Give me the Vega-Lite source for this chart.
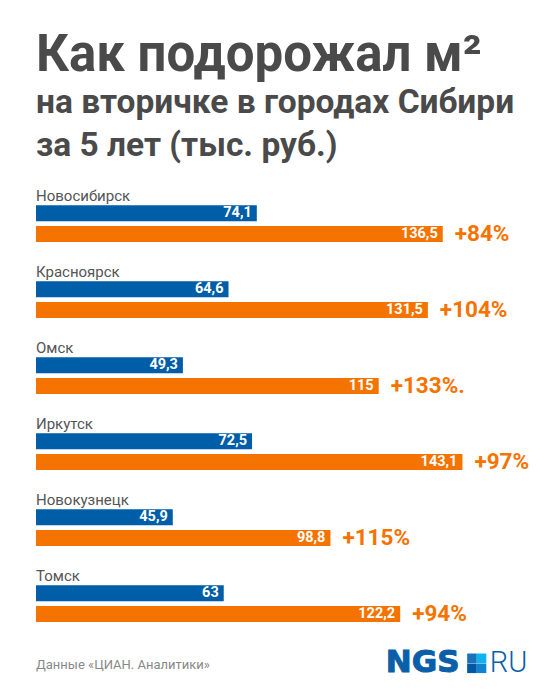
{
  "$schema": "https://vega.github.io/schema/vega-lite/v6.json",
  "description": "Как подорожал м2 на вторичке в городах Сибири",
  "autosize": "none",
  "padding": {"left": 36, "top": 205.3, "right": 0, "bottom": 0},
  "width": 524,
  "height": 494.7,
  "background": "white",
  "title": {
    "text": "Как подорожал м²",
    "subtitle": ["на вторичке в городах Сибири", "за 5 лет (тыс. руб.)"],
    "anchor": "start",
    "frame": "group",
    "font": "Roboto",
    "fontSize": 51,
    "fontWeight": 700,
    "color": "#4a4a4a",
    "subtitleFont": "Roboto",
    "subtitleFontSize": 33.5,
    "subtitleFontWeight": 700,
    "subtitleColor": "#4a4a4a",
    "subtitleLineHeight": 43,
    "subtitlePadding": 5,
    "offset": 26
  },
  "data": {
    "values": [
      {"city": "Новосибирск", "period": "before", "value": 74.1, "label": "74,1"},
      {"city": "Новосибирск", "period": "after", "value": 136.5, "label": "136,5", "growth": "+84%"},
      {"city": "Красноярск", "period": "before", "value": 64.6, "label": "64,6"},
      {"city": "Красноярск", "period": "after", "value": 131.5, "label": "131,5", "growth": "+104%"},
      {"city": "Омск", "period": "before", "value": 49.3, "label": "49,3"},
      {"city": "Омск", "period": "after", "value": 115, "label": "115", "growth": "+133%."},
      {"city": "Иркутск", "period": "before", "value": 72.5, "label": "72,5"},
      {"city": "Иркутск", "period": "after", "value": 143.1, "label": "143,1", "growth": "+97%"},
      {"city": "Новокузнецк", "period": "before", "value": 45.9, "label": "45,9"},
      {"city": "Новокузнецк", "period": "after", "value": 98.8, "label": "98,8", "growth": "+115%"},
      {"city": "Томск", "period": "before", "value": 63, "label": "63"},
      {"city": "Томск", "period": "after", "value": 122.2, "label": "122,2", "growth": "+94%"},
      {"city": "footer", "period": "footer", "value": 0, "note": "Данные «ЦИАН. Аналитики»"}
    ]
  },
  "encoding": {
    "x": {"field": "value", "type": "quantitative", "axis": null, "scale": {"domain": [0, 175.84], "range": [0, 524], "nice": false}},
    "y": {
      "field": "city",
      "type": "nominal",
      "axis": null,
      "sort": null,
      "scale": {
        "domain": ["Новосибирск", "Красноярск", "Омск", "Иркутск", "Новокузнецк", "Томск", "footer"],
        "range": [0, 532],
        "paddingInner": 0,
        "paddingOuter": 0
      }
    }
  },
  "layer": [
    {
      "transform": [{"filter": "datum.city != 'footer'"}],
      "mark": {"type": "bar"},
      "encoding": {
        "yOffset": {"field": "period", "scale": {"domain": ["before", "after"], "paddingInner": 0.223, "paddingOuter": 0.957, "align": 0}},
        "color": {"field": "period", "legend": null, "scale": {"domain": ["before", "after"], "range": ["#005ea8", "#f57300"]}}
      }
    },
    {
      "transform": [{"filter": "datum.city != 'footer'"}],
      "mark": {"type": "text", "align": "right", "baseline": "middle", "dx": -5, "font": "Roboto", "fontWeight": 700, "fontSize": 14.5, "color": "white"},
      "encoding": {
        "yOffset": {"field": "period", "scale": {"domain": ["before", "after"], "paddingInner": 0.223, "paddingOuter": 0.957, "align": 0}},
        "text": {"field": "label"}
      }
    },
    {
      "transform": [{"filter": "datum.growth"}],
      "mark": {"type": "text", "align": "left", "baseline": "middle", "dx": 12, "font": "Roboto", "fontWeight": 700, "fontSize": 22.5, "color": "#f57300"},
      "encoding": {
        "yOffset": {"field": "period", "scale": {"domain": ["before", "after"], "paddingInner": 0.223, "paddingOuter": 0.957, "align": 0}},
        "text": {"field": "growth"}
      }
    },
    {
      "transform": [{"filter": "datum.period == 'before'"}],
      "mark": {"type": "text", "align": "left", "baseline": "middle", "dy": -9, "font": "Roboto", "fontSize": 15, "color": "#555555"},
      "encoding": {
        "x": {"datum": 0},
        "y": {"field": "city", "type": "nominal", "bandPosition": 0},
        "text": {"field": "city"}
      }
    },
    {
      "transform": [{"filter": "datum.city == 'footer'"}],
      "mark": {"type": "text", "align": "left", "baseline": "middle", "dy": 4, "font": "Roboto", "fontSize": 13, "color": "#888888"},
      "encoding": {
        "x": {"datum": 0},
        "y": {"field": "city", "type": "nominal", "bandPosition": 0},
        "text": {"field": "note"}
      }
    },
    {
      "transform": [{"filter": "datum.city == 'footer'"}],
      "mark": {"type": "text", "align": "left", "baseline": "middle", "dy": 2, "font": "DejaVu Sans", "fontWeight": 700, "fontSize": 31, "color": "#0a5fa8", "stroke": "#0a5fa8", "strokeWidth": 1},
      "encoding": {
        "x": {"datum": 117.4},
        "y": {"field": "city", "type": "nominal", "bandPosition": 0},
        "text": {"value": "NGS"}
      }
    },
    {
      "transform": [{"filter": "datum.city == 'footer'"}],
      "mark": {"type": "text", "align": "left", "baseline": "middle", "dy": 2, "font": "Roboto", "fontWeight": 300, "fontSize": 29, "color": "#0a5fa8"},
      "encoding": {
        "x": {"datum": 152.3},
        "y": {"field": "city", "type": "nominal", "bandPosition": 0},
        "text": {"value": "RU"}
      }
    },
    {
      "transform": [{"filter": "datum.city == 'footer'"}],
      "mark": {"type": "square", "size": 92, "opacity": 1, "yOffset": -3, "color": "#1a72bb"},
      "encoding": {"x": {"datum": 146.3}, "y": {"field": "city", "type": "nominal", "bandPosition": 0}}
    },
    {
      "transform": [{"filter": "datum.city == 'footer'"}],
      "mark": {"type": "square", "size": 92, "opacity": 1, "yOffset": -3, "color": "#0db4f0"},
      "encoding": {"x": {"datum": 149.5}, "y": {"field": "city", "type": "nominal", "bandPosition": 0}}
    },
    {
      "transform": [{"filter": "datum.city == 'footer'"}],
      "mark": {"type": "square", "size": 92, "opacity": 1, "yOffset": 7, "color": "#0058a5"},
      "encoding": {"x": {"datum": 146.3}, "y": {"field": "city", "type": "nominal", "bandPosition": 0}}
    },
    {
      "transform": [{"filter": "datum.city == 'footer'"}],
      "mark": {"type": "square", "size": 92, "opacity": 1, "yOffset": 7, "color": "#1082d0"},
      "encoding": {"x": {"datum": 149.5}, "y": {"field": "city", "type": "nominal", "bandPosition": 0}}
    }
  ],
  "config": {"view": {"stroke": null}}
}
